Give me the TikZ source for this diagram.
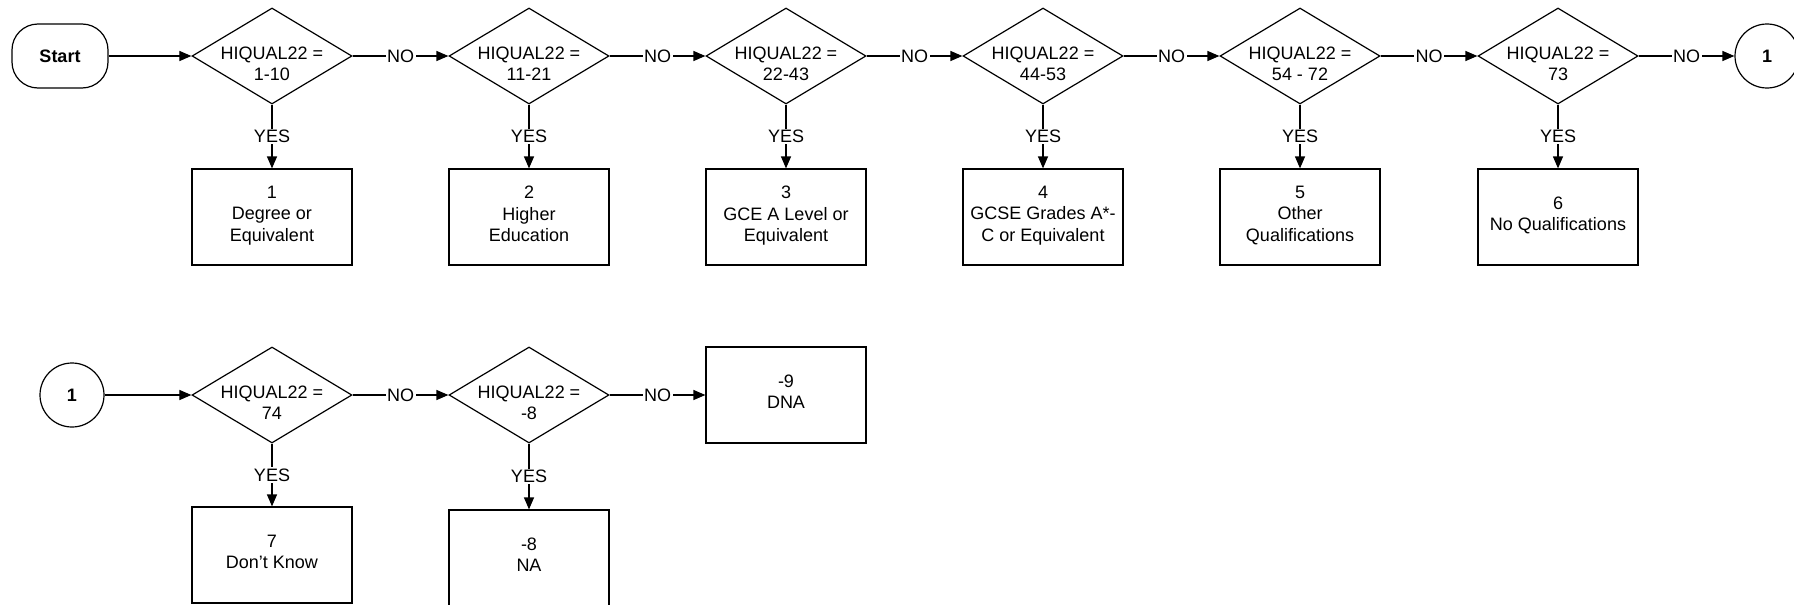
\documentclass[tikz,border=0pt]{standalone}
\usepackage{fontspec}
\setmainfont{Liberation Sans}
\usetikzlibrary{shapes.geometric,arrows.meta}
\begin{document}
\begin{tikzpicture}[x=1pt,y=-1pt,line width=1.2pt,
  font=\fontsize{18}{21.5}\selectfont,
  dec/.style={diamond,draw,inner sep=0pt,minimum width=160pt,minimum height=96pt},
  dtxt/.style={align=center,inner sep=0pt,yshift=-11pt,execute at begin node={\strut},execute at end node={\strut}},
  box/.style={rectangle,draw,align=center,inner sep=0pt,minimum width=160pt,minimum height=96pt,execute at begin node={\strut},execute at end node={\strut}},
  term/.style={rectangle,draw,rounded corners=26pt,minimum width=96pt,minimum height=64pt,font=\fontsize{18}{21.5}\selectfont\bfseries},
  conn/.style={circle,draw,minimum size=64pt,inner sep=0pt,font=\fontsize{18}{21.5}\selectfont\bfseries},
  arr/.style={-{Triangle[length=12pt,width=10pt]}},
  lbl/.style={fill=white,inner sep=1.5pt}]
\useasboundingbox (0,0) rectangle (1794,605);
% row 1
\node[term] (start) at (60,56) {Start};
\node[dec] (d1) at (272,56) {}; \node[dtxt] (t1) at (d1) {HIQUAL22 =\\1-10};
\node[dec] (d2) at (529,56) {}; \node[dtxt] (t2) at (d2) {HIQUAL22 =\\11-21};
\node[dec] (d3) at (786,56) {}; \node[dtxt] (t3) at (d3) {HIQUAL22 =\\22-43};
\node[dec] (d4) at (1043,56) {}; \node[dtxt] (t4) at (d4) {HIQUAL22 =\\44-53};
\node[dec] (d5) at (1300,56) {}; \node[dtxt] (t5) at (d5) {HIQUAL22 =\\54 - 72};
\node[dec] (d6) at (1558,56) {}; \node[dtxt] (t6) at (d6) {HIQUAL22 =\\73};
\node[conn] (c1) at (1767,56) {1};
\node[box] (b1) at (272,217) {1\\Degree or\\Equivalent};
\node[box] (b2) at (529,217) {2\\Higher\\Education};
\node[box] (b3) at (786,217) {3\\GCE A Level or\\Equivalent};
\node[box] (b4) at (1043,217) {4\\GCSE Grades A*-\\C or Equivalent};
\node[box] (b5) at (1300,217) {5\\Other\\Qualifications};
\node[box] (b6) at (1558,217) {6\\No Qualifications};
\draw[arr] (start) -- (d1);
\draw[arr] (d1) -- node[lbl] (n1) {NO} (d2);
\draw[arr] (d2) -- node[lbl] (n2) {NO} (d3);
\draw[arr] (d3) -- node[lbl] (n3) {NO} (d4);
\draw[arr] (d4) -- node[lbl] (n4) {NO} (d5);
\draw[arr] (d5) -- node[lbl] (n5) {NO} (d6);
\draw[arr] (d6) -- node[lbl] (n6) {NO} (c1);
\draw[arr] (d1) -- node[lbl] (y1) {YES} (b1);
\draw[arr] (d2) -- node[lbl] (y2) {YES} (b2);
\draw[arr] (d3) -- node[lbl] (y3) {YES} (b3);
\draw[arr] (d4) -- node[lbl] (y4) {YES} (b4);
\draw[arr] (d5) -- node[lbl] (y5) {YES} (b5);
\draw[arr] (d6) -- node[lbl] (y6) {YES} (b6);
% row 2
\node[conn] (c2) at (72,395) {1};
\node[dec] (d7) at (272,395) {}; \node[dtxt] (t7) at (d7) {HIQUAL22 =\\74};
\node[dec] (d8) at (529,395) {}; \node[dtxt] (t8) at (d8) {HIQUAL22 =\\-8};
\node[box] (b9) at (786,395) {-9\\DNA};
\node[box] (b7) at (272,555) {7\\Don’t Know};
\node[box] (b8) at (529,558) {-8\\NA};
\draw[arr] (c2) -- (d7);
\draw[arr] (d7) -- node[lbl] (n7) {NO} (d8);
\draw[arr] (d8) -- node[lbl] (n8) {NO} (b9);
\draw[arr] (d7) -- node[lbl] (y7) {YES} (b7);
\draw[arr] (d8) -- node[lbl] (y8) {YES} (b8);
\end{tikzpicture}
\end{document}
